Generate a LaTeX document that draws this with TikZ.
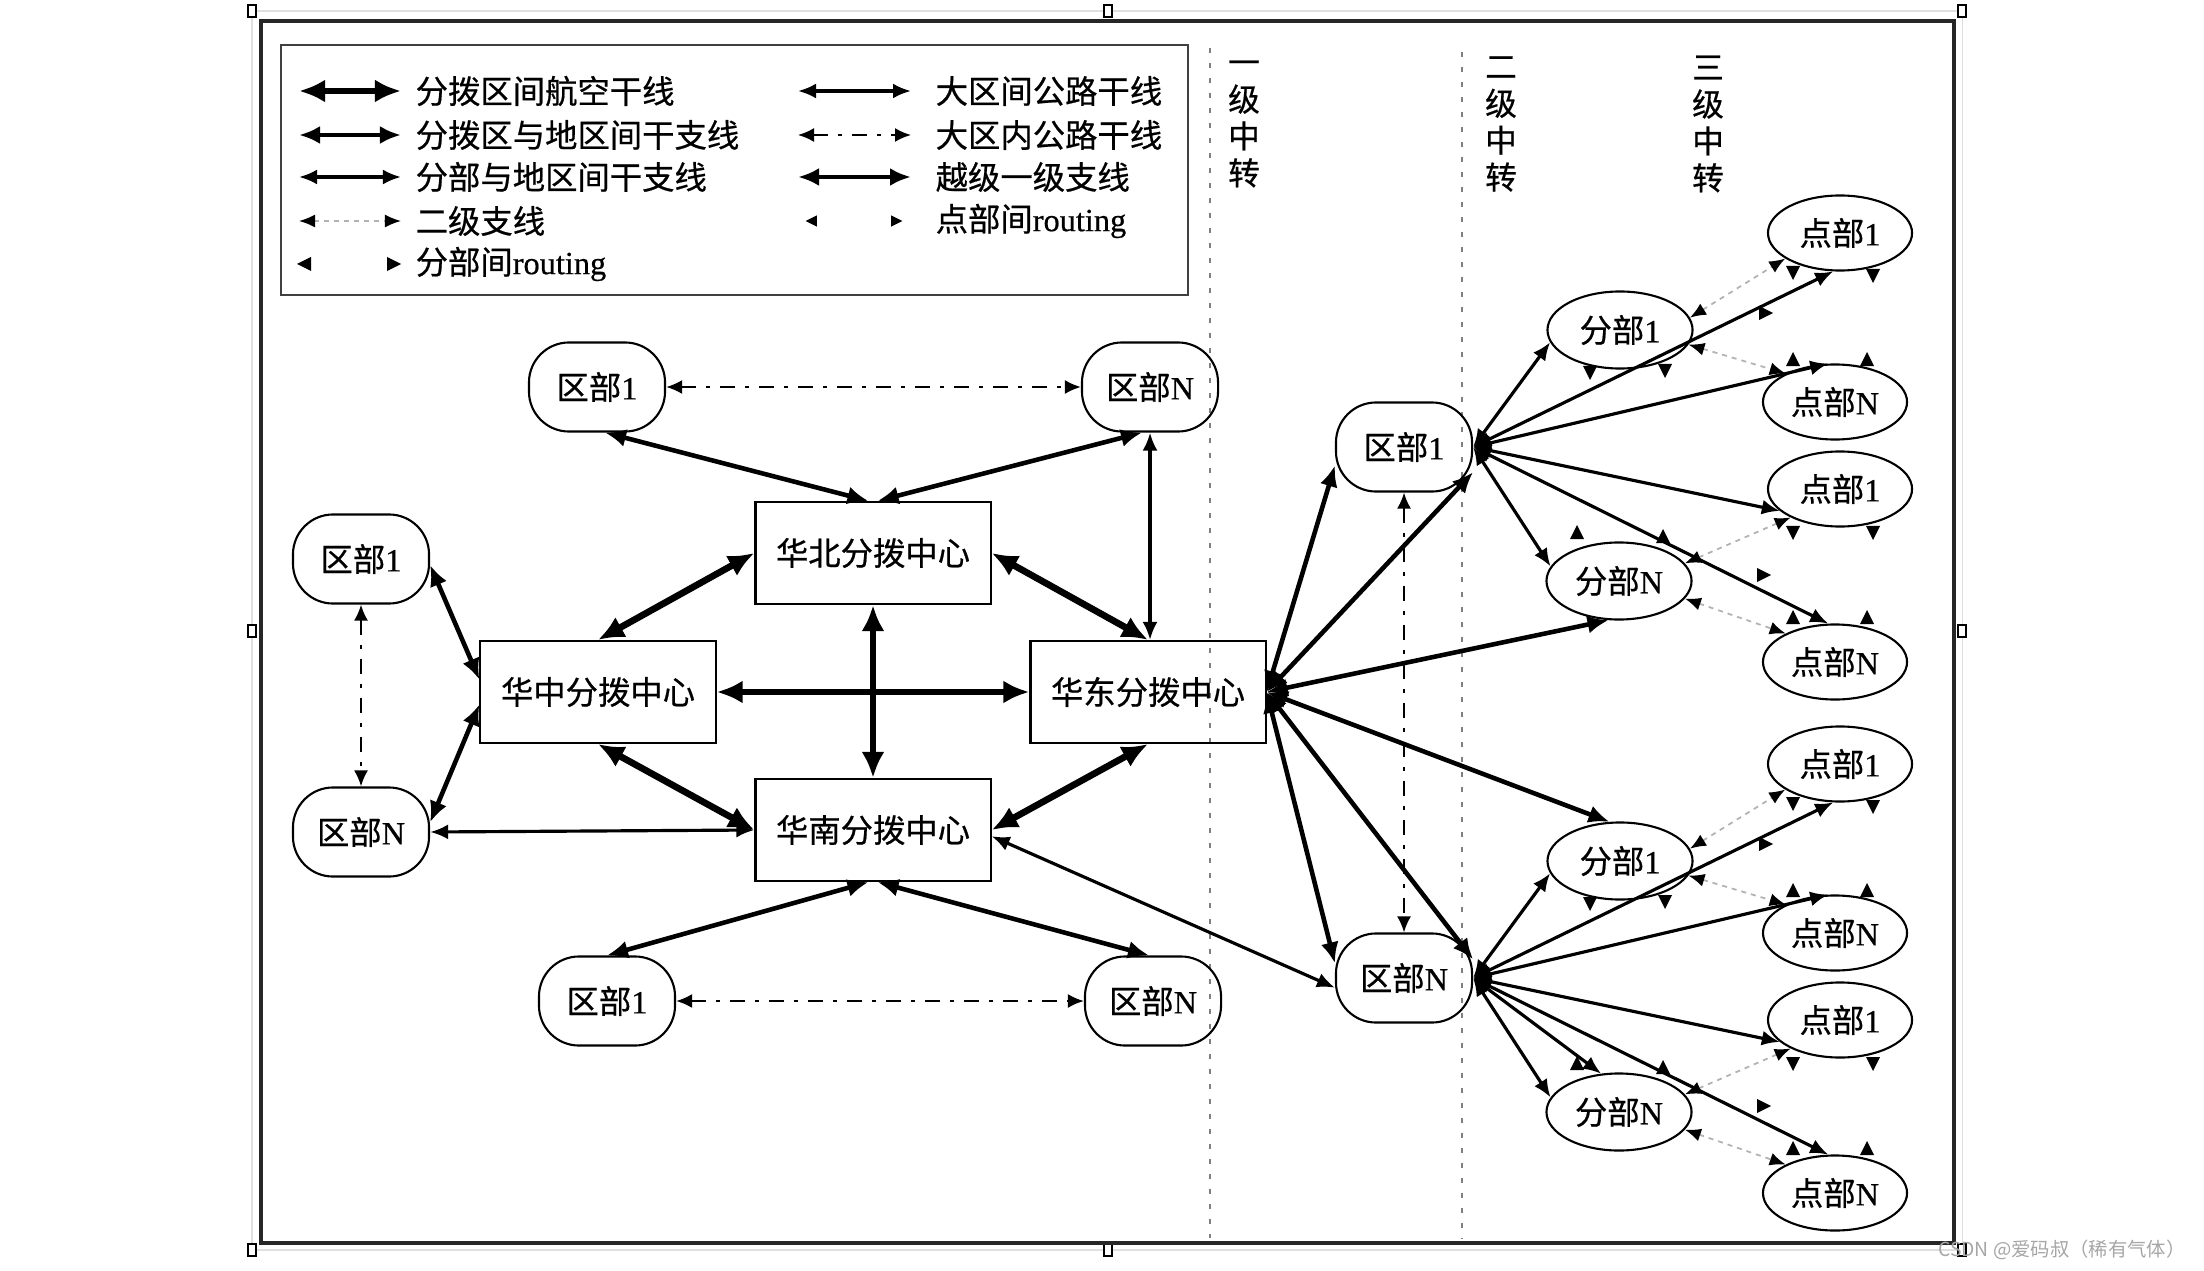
\documentclass[tikz,border=0pt]{standalone}
\usepackage{fontspec}
\setmainfont{Liberation Serif}[FakeBold=0.5]
\newfontfamily\cjk{Noto Sans CJK SC}[FakeBold=0.6]
\newfontfamily\wmfont{Noto Sans CJK SC}
\newcommand\zhs[1]{{\cjk #1}}
\usetikzlibrary{arrows.meta,shapes.geometric}

\tikzset{
  qu/.style={draw, line width=0.6pt, rounded corners=0.4cm, minimum width=1.36cm, minimum height=0.89cm, inner sep=0pt},
  dc/.style={draw, line width=0.6pt, minimum width=2.35cm, minimum height=1.02cm, inner sep=0pt},
  fen/.style={draw, ellipse, line width=0.6pt, minimum width=1.45cm, minimum height=0.77cm, inner sep=0pt},
  dian/.style={draw, ellipse, line width=0.6pt, minimum width=1.44cm, minimum height=0.75cm, inner sep=0pt},
  air/.style={arrows={{Latex[length=2.6mm,width=2.3mm]}-{Latex[length=2.6mm,width=2.3mm]}}, line width=1.9pt},
  trunk/.style={arrows={{Latex[length=2.1mm,width=1.8mm]}-{Latex[length=2.1mm,width=1.8mm]}}, line width=1.3pt},
  branch/.style={arrows={{Latex[length=1.8mm,width=1.5mm]}-{Latex[length=1.8mm,width=1.5mm]}}, line width=0.9pt},
  road/.style={arrows={{Latex[length=1.8mm,width=1.5mm]}-{Latex[length=1.8mm,width=1.5mm]}}, line width=0.9pt},
  intra/.style={arrows={{Latex[length=1.6mm,width=1.4mm]}-{Latex[length=1.6mm,width=1.4mm]}}, line width=0.6pt, dash pattern=on 1.5mm off 1mm on 0.4mm off 1mm},
  second/.style={arrows={{Latex[length=1.6mm,width=1.3mm,color=black]}-{Latex[length=1.6mm,width=1.3mm,color=black]}}, gray!60, line width=0.5pt, dash pattern=on 0.5mm off 0.5mm},
  tri/.pic={\fill[rotate=#1] (0.8mm,0) -- (-0.6mm,0.7mm) -- (-0.6mm,-0.7mm) -- cycle;}
}

\begin{document}
\begin{tikzpicture}[x=0.01cm, y=-0.01cm, font=\fontsize{9.2pt}{11pt}\selectfont]
\useasboundingbox (0,0) rectangle (2204,1270);

% selection frame and handles
\draw[gray!25, line width=0.3pt] (252,11) rectangle (1962,1250);
\foreach \hx/\hy in {252/11, 1108/11, 1962/11, 252/631, 1962/631, 252/1250, 1108/1250, 1962/1250}
  \draw[fill=white, line width=0.4pt] (\hx-4,\hy-6) rectangle (\hx+4,\hy+6);

% frame, legend box, level guides
\draw[line width=0.9pt, black!85] (261,21) rectangle (1954,1243);
\draw[line width=0.8pt, black!75] (281,45) rectangle (1188,295);
\draw[gray, line width=0.5pt, dash pattern=on 0.5mm off 1mm] (1210,48) -- (1210,1238);
\draw[gray, line width=0.5pt, dash pattern=on 0.5mm off 1mm] (1462,52) -- (1462,1238);
\node[align=center, font=\cjk\fontsize{9pt}{10.5pt}\selectfont] (lv1) at (1244,124) {一\\级\\中\\转};
\node[align=center, font=\cjk\fontsize{9pt}{10.5pt}\selectfont] (lv2) at (1501,124) {二\\级\\中\\转};
\node[align=center, font=\cjk\fontsize{9pt}{10.5pt}\selectfont] (lv3) at (1708,124) {三\\级\\中\\转};

% legend
\foreach \i/\y/\s/\t in {1/91/air/分拨区间航空干线, 2/135/trunk/分拨区与地区间干支线, 3/177/branch/分部与地区间干支线, 4/221/second/二级支线} {
  \coordinate (ls\i) at (299,\y);
  \coordinate (le\i) at (401,\y);
  \draw[\s] (ls\i) -- (le\i);
  \node[anchor=west, inner sep=0pt] (lt\i) at (415,\y) {\zhs{\t}};
}
\foreach \i/\y/\s/\t in {1/91/road/大区间公路干线, 2/135/intra/大区内公路干线, 3/177/trunk/越级一级支线} {
  \coordinate (rs\i) at (798,\y);
  \coordinate (re\i) at (911,\y);
  \draw[\s] (rs\i) -- (re\i);
  \node[anchor=west, inner sep=0pt] (rt\i) at (935,\y) {\zhs{\t}};
}
\pic at (305,264) {tri=180};
\pic at (393,264) {tri=0};
\node[anchor=west, inner sep=0pt] (lt5) at (415,264) {\zhs{分部间}routing};
\pic[scale=0.8] at (812,221) {tri=180};
\pic[scale=0.8] at (896,221) {tri=0};
\node[anchor=west, inner sep=0pt] (rt4) at (935,221) {\zhs{点部间}routing};

% distribution centres and regions
\node[dc] (hb) at (873,553) {\zhs{华北分拨中心}};
\node[dc] (hz) at (598,692) {\zhs{华中分拨中心}};
\node[dc] (hd) at (1148,692) {\zhs{华东分拨中心}};
\node[dc] (hn) at (873,830) {\zhs{华南分拨中心}};
\node[qu] (qt1) at (597,387) {\zhs{区部}1};
\node[qu] (qtN) at (1150,387) {\zhs{区部}N};
\node[qu] (ql1) at (361,559) {\zhs{区部}1};
\node[qu] (qlN) at (361,832) {\zhs{区部}N};
\node[qu] (qb1) at (607,1001) {\zhs{区部}1};
\node[qu] (qbN) at (1153,1001) {\zhs{区部}N};
\node[qu] (qr1) at (1404,447) {\zhs{区部}1};
\node[qu] (qrN) at (1404,978) {\zhs{区部}N};

% air trunk lines
\draw[air] (hz) -- (hd);
\draw[air] (hb) -- (hn);
\draw[air] (hb.west) -- (hz.north);
\draw[air] (hb.east) -- (hd.north);
\draw[air] (hz.south) -- (hn.west);
\draw[air] (hd.south) -- (hn.east);

% centre to region
\draw[trunk] (qt1.-80) -- (hb.95);
\draw[trunk] (qtN.-100) -- (hb.85);
\draw[trunk] (ql1.-5) -- (hz.174);
\draw[trunk] (qlN.8) -- (hz.186);
\draw[trunk] (hn.265) -- (qb1.north);
\draw[trunk] (hn.275) -- (qbN.95);
\draw[trunk] (hd.east) -- (qr1.195);
\draw[trunk] (hd.east) -- (qr1.-20);
\draw[trunk] (hd.east) -- (qrN.15);
\draw[trunk] (hd.east) -- (qrN.168);

% roads
\draw[road] (qtN.south) -- (qtN.south |- hd.north);
\draw[road] (qlN.east) -- (hn.west);
\draw[road] (hn.-3) -- (qrN.188);
\draw[intra] (qt1) -- (qtN);
\draw[intra] (ql1) -- (qlN);
\draw[intra] (qb1) -- (qbN);
\draw[intra] (qr1) -- (qrN);

% second and third level
\foreach \k/\qn/\cy in {1/qr1/447, 2/qrN/978} {
  \node[fen] (fa\k) at (1620,\cy-117) {\zhs{分部}1};
  \node[fen] (fb\k) at (1619,\cy+134) {\zhs{分部}N};
  \node[dian] (da\k) at (1840,\cy-214) {\zhs{点部}1};
  \node[dian] (db\k) at (1835,\cy-45) {\zhs{点部}N};
  \node[dian] (dc\k) at (1840,\cy+42) {\zhs{点部}1};
  \node[dian] (dd\k) at (1835,\cy+215) {\zhs{点部}N};
  \draw[branch] (\qn.east) -- (fa\k.190);
  \draw[branch] (\qn.east) -- (fb\k.168);
  \draw[branch] (\qn.east) -- (da\k.260);
  \draw[branch] (\qn.east) -- (db\k.100);
  \draw[branch] (\qn.east) -- (dc\k.200);
  \draw[branch] (\qn.east) -- (dd\k.100);
  \draw[second] (fa\k.10) -- (da\k.205);
  \draw[second] (fa\k.-12) -- (db\k.150);
  \draw[second] (fb\k.15) -- (dc\k.210);
  \draw[second] (fb\k.-15) -- (dd\k.150);
  % routing marks
  \pic at (1793,\cy-175) {tri=-90};
  \pic at (1873,\cy-172) {tri=-90};
  \pic at (1793,\cy-87) {tri=90};
  \pic at (1867,\cy-87) {tri=90};
  \pic at (1793,\cy+85) {tri=-90};
  \pic at (1873,\cy+85) {tri=-90};
  \pic at (1793,\cy+171) {tri=90};
  \pic at (1867,\cy+171) {tri=90};
  \pic at (1765,\cy-134) {tri=0};
  \pic at (1763,\cy+128) {tri=0};
  \pic at (1590,\cy-75) {tri=-90};
  \pic at (1665,\cy-77) {tri=-90};
  \pic at (1577,\cy+86) {tri=90};
  \pic at (1663,\cy+90) {tri=90};
}
\draw[trunk] (hd.east) -- (fb1.255);
\draw[trunk] (hd.east) -- (fa2.105);
\draw[branch] (qrN.east) -- (fb2.115);

% watermark
\node[anchor=east, text=gray!70, font=\wmfont\fontsize{5.5pt}{6pt}\selectfont] (wm) at (2198,1250) {CSDN @爱码叔（稀有气体）};
\end{tikzpicture}
\end{document}
